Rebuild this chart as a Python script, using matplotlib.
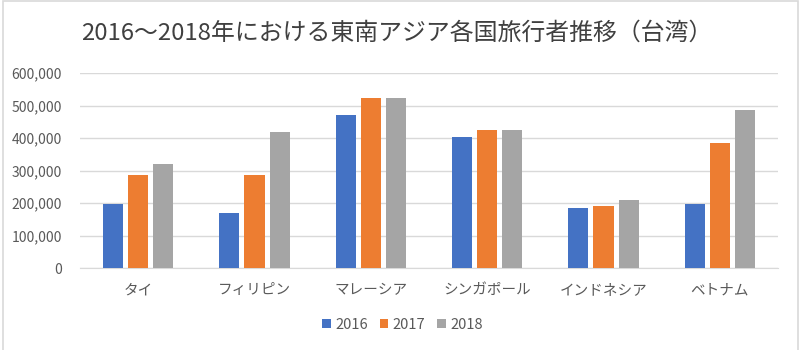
import numpy as np
import matplotlib.pyplot as plt
from matplotlib.patches import Rectangle

plt.rcParams['font.family'] = ['Noto Sans CJK JP', 'DejaVu Sans']

title = "2016～2018年における東南アジア各国旅行者推移（台湾）"
countries = ["タイ", "フィリピン", "マレーシア", "シンガポール", "インドネシア", "ベトナム"]
years = ["2016", "2017", "2018"]
v2016 = [196000, 169000, 472000, 403000, 186000, 196000]
v2017 = [288000, 288000, 524000, 425000, 191000, 384000]
v2018 = [320000, 419000, 524000, 425000, 211000, 487000]
colors = ['#4472C4', '#ED7D31', '#A5A5A5']

fig = plt.figure(figsize=(8, 3.5), dpi=100)
ax = fig.add_axes([0.1, 0.234, 0.8725, 0.557])

x = np.arange(len(countries))
width = 0.172
step = 0.215
for i, (vals, yr) in enumerate(zip([v2016, v2017, v2018], years)):
    ax.bar(x + (i - 1) * step, vals, width, color=colors[i], label=yr, zorder=3)

ax.set_xlim(-0.5, len(countries) - 0.5)
ax.set_ylim(0, 600000)
ax.set_yticks(range(0, 600001, 100000))
ax.set_yticklabels([f"{v:,}" for v in range(0, 600001, 100000)])
ax.set_xticks(x)
ax.set_xticklabels(countries)
ax.tick_params(axis='both', length=0, labelsize=10, colors='#595959')
ax.tick_params(axis='x', labelsize=10.5, pad=11)
ax.tick_params(axis='y', pad=13)
ax.grid(axis='y', color='#D9D9D9', linewidth=1, zorder=0)
for s in ['top', 'right', 'left']:
    ax.spines[s].set_visible(False)
ax.spines['bottom'].set_color('#D9D9D9')

fig.text(0.496, 0.905, title, ha='center', va='center', fontsize=17.2, color='#404040')

ax.legend(loc='center', bbox_to_anchor=(0.503, 0.072), bbox_transform=fig.transFigure,
          ncol=3, frameon=False, fontsize=10.5, handlelength=0.6, handleheight=0.6,
          handletextpad=0.3, columnspacing=0.8, labelcolor='#595959')

# outer chart border
fig.patches.append(Rectangle((0.004, -0.01), 0.993, 1.006, transform=fig.transFigure,
                             fill=False, edgecolor='#D9D9D9', linewidth=1.2))

fig.savefig('out.png', dpi=100)
